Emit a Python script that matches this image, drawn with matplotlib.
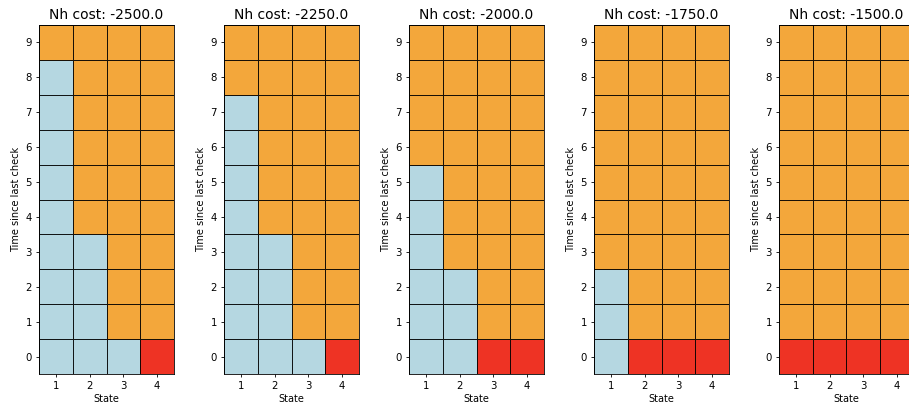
import matplotlib.pyplot as plt
import numpy as np
from matplotlib.colors import ListedColormap

# policy action per (time since last check, state): 0 = wait, 1 = check, 2 = replace
nh_costs = [-2500.0, -2250.0, -2000.0, -1750.0, -1500.0]
states = [1, 2, 3, 4]
times = list(range(10))

# each row is one time step (0..9), each column one state (1..4)
policy_2500 = [[0, 0, 0, 2], [0, 0, 1, 1], [0, 0, 1, 1], [0, 0, 1, 1], [0, 1, 1, 1],
               [0, 1, 1, 1], [0, 1, 1, 1], [0, 1, 1, 1], [0, 1, 1, 1], [1, 1, 1, 1]]
policy_2250 = [[0, 0, 0, 2], [0, 0, 1, 1], [0, 0, 1, 1], [0, 0, 1, 1], [0, 1, 1, 1],
               [0, 1, 1, 1], [0, 1, 1, 1], [0, 1, 1, 1], [1, 1, 1, 1], [1, 1, 1, 1]]
policy_2000 = [[0, 0, 2, 2], [0, 0, 1, 1], [0, 0, 1, 1], [0, 1, 1, 1], [0, 1, 1, 1],
               [0, 1, 1, 1], [1, 1, 1, 1], [1, 1, 1, 1], [1, 1, 1, 1], [1, 1, 1, 1]]
policy_1750 = [[0, 2, 2, 2], [0, 1, 1, 1], [0, 1, 1, 1], [1, 1, 1, 1], [1, 1, 1, 1],
               [1, 1, 1, 1], [1, 1, 1, 1], [1, 1, 1, 1], [1, 1, 1, 1], [1, 1, 1, 1]]
policy_1500 = [[2, 2, 2, 2], [1, 1, 1, 1], [1, 1, 1, 1], [1, 1, 1, 1], [1, 1, 1, 1],
               [1, 1, 1, 1], [1, 1, 1, 1], [1, 1, 1, 1], [1, 1, 1, 1], [1, 1, 1, 1]]
policies = [policy_2500, policy_2250, policy_2000, policy_1750, policy_1500]

cmap = ListedColormap(["#b5d7e1", "#f3a73b", "#ee3324"])

fig = plt.figure(figsize=(9.09, 4.07), dpi=100)

W, H = 909.0, 407.0
for i, (cost, policy) in enumerate(zip(nh_costs, policies)):
    left = 39 + i * 185
    ax = fig.add_axes([left / W, 33 / H, 135 / W, 349 / H])
    grid = np.array(policy)
    x_edges = np.arange(len(states) + 1) + 0.5
    y_edges = np.arange(len(times) + 1) - 0.5
    ax.pcolormesh(x_edges, y_edges, grid, cmap=cmap, vmin=0, vmax=2,
                  edgecolors=(0, 0, 0, 0.9), linewidth=0.65)
    ax.set_xticks(states)
    ax.set_yticks(times)
    ax.tick_params(labelsize=7.3, length=2.5, width=0.6, pad=2.6)
    for spine in ax.spines.values():
        spine.set_linewidth(0.6)
    ax.set_xlabel("State", fontsize=7, labelpad=2)
    ax.set_ylabel("Time since last check", fontsize=7, labelpad=3)
    ax.set_title(f"Nh cost: {cost}", fontsize=10, pad=4)

fig.savefig("out.png", dpi=100)
